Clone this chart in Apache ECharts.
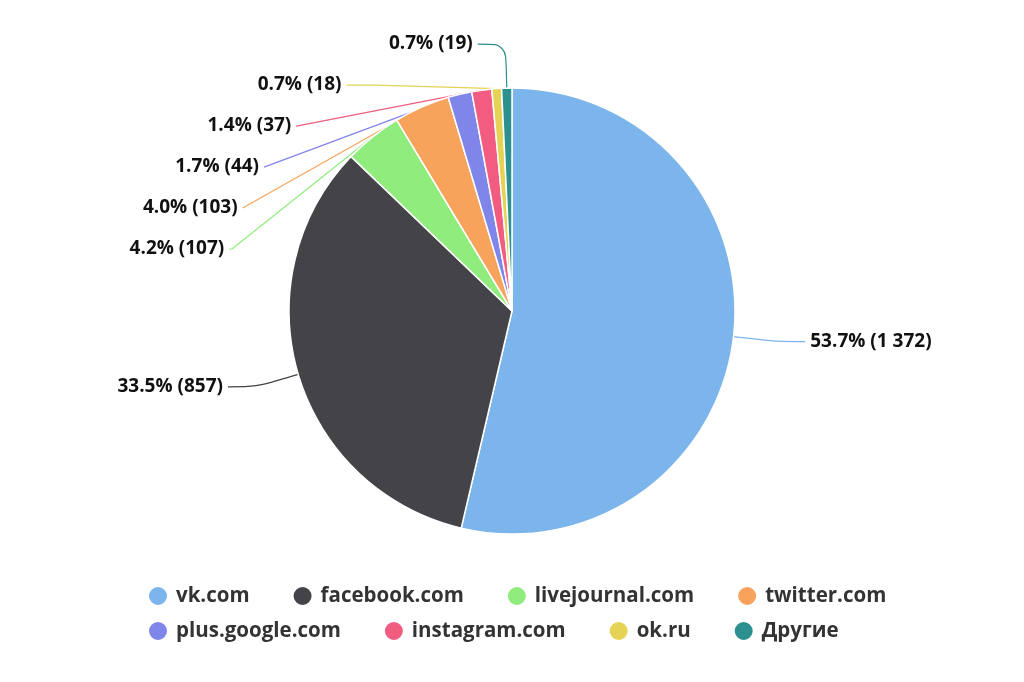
<!DOCTYPE html>
<html><head><meta charset="utf-8">
<script src="https://cdn.jsdelivr.net/npm/echarts@6/dist/echarts.min.js"></script>
<style>html,body{margin:0;padding:0;background:#fff}#c{width:1024px;height:682px}</style>
</head><body><div id="c"></div>
<script>
const categories = ['vk.com','facebook.com','livejournal.com','twitter.com','plus.google.com','instagram.com','ok.ru','Другие'];
const values = [1372, 857, 107, 103, 44, 37, 18, 19];
const colors = ['#7cb5ec','#434348','#90ed7d','#f7a35c','#8085e9','#f15c80','#e4d354','#2b908f'];
const legendRow1 = categories.slice(0,4);
const legendRow2 = categories.slice(4);
const total = values.reduce((a,b)=>a+b,0);
function fmt(v){return String(v).replace(/\B(?=(\d{3})+(?!\d))/g,' ');}
const legendBase = {
  left: 142, orient:'horizontal',
  icon:'circle', itemWidth:20, itemHeight:20, itemGap:42,
  textStyle:{fontSize:20.5, fontWeight:'bold', color:'#333', fontFamily:'Open Sans', padding:[0,0,0,3]}
};
const chart = echarts.init(document.getElementById('c'));
chart.setOption({
  animation:false,
  color: colors,
  textStyle:{fontFamily:'Open Sans'},
  legend:[
    Object.assign({}, legendBase, {top:580, data: legendRow1}),
    Object.assign({}, legendBase, {top:615, data: legendRow2})
  ],
  series:[{
    type:'pie',
    center:[512,311], radius:223,
    startAngle:90, clockwise:true,
    itemStyle:{borderColor:'#fff', borderWidth:1.5},
    label:{
      show:true, position:'outside',
      fontSize:19, fontWeight:'bold', color:'#111', fontFamily:'Open Sans',
      lineHeight:39,
      formatter: p => (p.value/total*100).toFixed(1)+'% ('+fmt(p.value)+')'
    },
    labelLine:{show:true, length:44, length2:28, smooth:0.3, lineStyle:{width:1.2}},
    data: categories.map((n,i)=>({name:n, value:values[i]}))
  }]
});
</script></body></html>
